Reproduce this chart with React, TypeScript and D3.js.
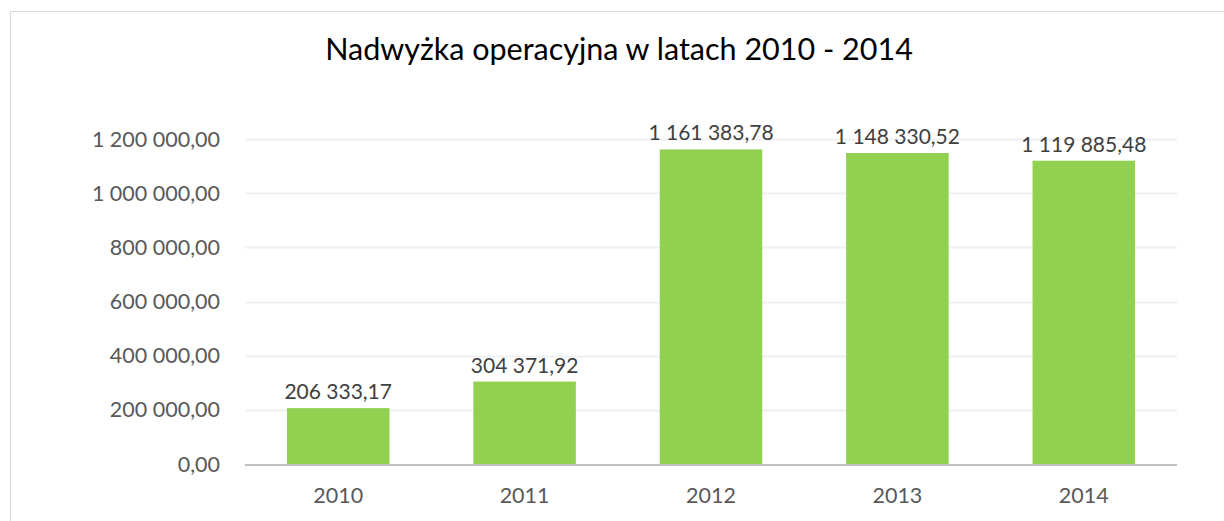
import { useEffect, useRef } from 'react';
import * as d3 from 'd3';

const years = ['2010', '2011', '2012', '2013', '2014'];
const surplus = [206333.17, 304371.92, 1161383.78, 1148330.52, 1119885.48];
const yTicks = [0, 200000, 400000, 600000, 800000, 1000000, 1200000];
const title = 'Nadwyżka operacyjna w latach 2010 - 2014';

const W = 1224;
const H = 521;
const FONT = 'Lato, "Open Sans", sans-serif';

export default function App() {
  const svgRef = useRef<SVGSVGElement>(null);

  useEffect(() => {
    const svg = d3.select(svgRef.current);
    svg.selectAll('*').remove();

    const margin = { top: 139, right: 47, bottom: 57, left: 245 };
    const innerW = W - margin.left - margin.right;
    const innerH = H - margin.top - margin.bottom;

    const pl = d3.formatLocale({ decimal: ',', thousands: ' ', grouping: [3], currency: ['', ''] });
    const fmt = pl.format(',.2f');

    // ramka wykresu
    svg.append('path')
      .attr('d', `M10.5,${H} V11.5 H${W}`)
      .attr('fill', 'none')
      .attr('stroke', '#d9d9d9')
      .attr('stroke-width', 1);

    svg.append('text')
      .attr('x', 619)
      .attr('y', 60)
      .attr('text-anchor', 'middle')
      .attr('font-family', FONT)
      .attr('font-size', 30.5)
      .attr('fill', '#000')
      .text(title);

    const g = svg.append('g').attr('transform', `translate(${margin.left},${margin.top})`);

    const x = d3.scaleBand().domain(years).range([0, innerW]).paddingInner(0.45).paddingOuter(0.225);
    const y = d3.scaleLinear().domain([0, 1200000]).range([innerH, 0]);

    // linie siatki
    g.selectAll('line.grid')
      .data(yTicks.filter(t => t > 0))
      .enter()
      .append('line')
      .attr('class', 'grid')
      .attr('x1', 0)
      .attr('x2', innerW)
      .attr('y1', d => Math.round(y(d)) + 0.5)
      .attr('y2', d => Math.round(y(d)) + 0.5)
      .attr('stroke', '#f0f0f0')
      .attr('stroke-width', 2);

    g.selectAll('text.ytick')
      .data(yTicks)
      .enter()
      .append('text')
      .attr('class', 'ytick')
      .attr('x', -25)
      .attr('y', d => y(d))
      .attr('dy', '0.35em')
      .attr('text-anchor', 'end')
      .attr('font-family', FONT)
      .attr('font-size', 21.5)
      .attr('fill', '#595959')
      .text(d => fmt(d));

    g.selectAll('rect.bar')
      .data(surplus)
      .enter()
      .append('rect')
      .attr('class', 'bar')
      .attr('x', (d, i) => x(years[i]))
      .attr('y', d => y(d))
      .attr('width', x.bandwidth())
      .attr('height', d => innerH - y(d))
      .attr('fill', '#92d050');

    // os X
    g.append('line')
      .attr('x1', 0)
      .attr('x2', innerW)
      .attr('y1', innerH + 1)
      .attr('y2', innerH + 1)
      .attr('stroke', '#bfbfbf')
      .attr('stroke-width', 2);

    g.selectAll('text.xtick')
      .data(years)
      .enter()
      .append('text')
      .attr('class', 'xtick')
      .attr('x', d => x(d) + x.bandwidth() / 2)
      .attr('y', innerH + 39)
      .attr('text-anchor', 'middle')
      .attr('font-family', FONT)
      .attr('font-size', 21.5)
      .attr('fill', '#595959')
      .text(d => d);

    // etykiety danych (przycięte do obszaru wykresu)
    g.selectAll('text.label')
      .data(surplus)
      .enter()
      .append('text')
      .attr('class', 'label')
      .attr('x', (d, i) => x(years[i]) + x.bandwidth() / 2)
      .attr('y', d => Math.max(y(d) - 9, -7))
      .attr('text-anchor', 'middle')
      .attr('font-family', FONT)
      .attr('font-size', 21)
      .attr('fill', '#404040')
      .text(d => fmt(d));
  }, []);

  return (
    <svg
      ref={svgRef}
      width={W}
      height={H}
      style={{ position: 'absolute', left: 0, top: 0, background: '#fff' }}
    />
  );
}
